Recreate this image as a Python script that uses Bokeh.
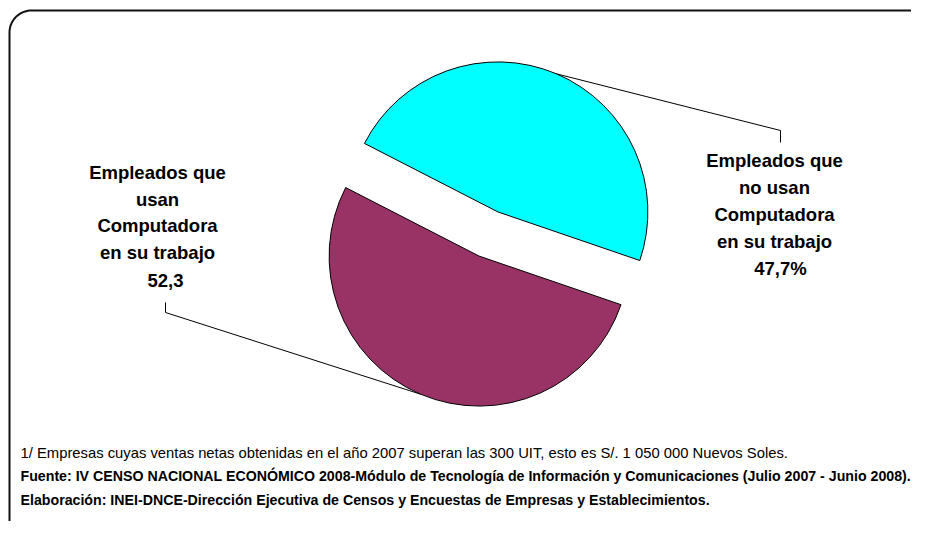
import numpy as np
from bokeh.plotting import figure
from bokeh.models import Range1d
from bokeh.core.properties import value
from bokeh.embed import file_html
from bokeh.resources import INLINE

# ---------------- data ----------------
categories = ["Empleados que usan Computadora en su trabajo",
              "Empleados que no usan Computadora en su trabajo"]
label_lines_usan = ["Empleados que", "usan", "Computadora", "en su trabajo"]
label_lines_no_usan = ["Empleados que", "no usan", "Computadora", "en su trabajo"]
values = [52.3, 47.7]
value_labels = ["52,3", "47,7%"]
colors = ["#993366", "#00FFFF"]
notes = [
    "1/ Empresas cuyas ventas netas obtenidas en el año 2007 superan las 300 UIT, esto es S/. 1 050 000 Nuevos Soles.",
    "Fuente: IV CENSO NACIONAL ECONÓMICO 2008-Módulo de Tecnología de Información y Comunicaciones (Julio 2007 - Junio 2008).",
    "Elaboración: INEI-DNCE-Dirección Ejecutiva de Censos y Encuestas de Empresas y Establecimientos.",
]

# ---------------- layout ----------------
W, H = 911, 521


def Y(sy):
    return H - sy


p = figure(width=W, height=H, output_backend="svg", toolbar_location=None,
           x_range=Range1d(0, W), y_range=Range1d(0, H), min_border=0)
p.axis.visible = False
p.grid.visible = False
p.outline_line_color = None
p.background_fill_color = "white"
p.border_fill_color = "white"

# rounded frame (open to the right/bottom, as in the cropped original)
fl, ft, fr, fb, rad = 9.0, 10.0, 930.0, 560.0, 22.0
t1 = np.linspace(np.pi, np.pi / 2, 20)
t2 = np.linspace(np.pi / 2, 0, 20)
fx = np.concatenate([[fl], fl + rad + rad * np.cos(t1), fr - rad + rad * np.cos(t2), [fr]])
fy = np.concatenate([[fb], ft + rad - rad * np.sin(t1), ft + rad - rad * np.sin(t2), [fb]])
p.line(fx, [Y(v) for v in fy], line_color="#111111", line_width=2)

# pie
cx, cy = 488.0, Y(233.5)
R = 150
explode = 24
total = sum(values)
start = np.radians(-18.9)
order = [1, 0]  # cyan (no usan) first, anticlockwise, then purple
mids = {}
a = start
for i in order:
    span = 2 * np.pi * values[i] / total
    s, e = a, a + span
    m = (s + e) / 2
    ox, oy = cx + explode * np.cos(m), cy + explode * np.sin(m)
    p.wedge(x=ox, y=oy, radius=R, start_angle=s, end_angle=e,
            direction="anticlock", fill_color=colors[i],
            line_color="black", line_width=1)
    mids[i] = (ox + R * np.cos(m), oy + R * np.sin(m))
    a = e

# leader lines
lx, ly = mids[1]
p.line([lx, 780, 780], [ly, Y(130), Y(142)], line_color="black", line_width=1)
lx, ly = mids[0]
p.line([lx, 165, 165], [ly, Y(312), Y(302)], line_color="black", line_width=1)

lab_font = value("Liberation Sans")
LS = "18.5px"
# left label
left_ys = [172, 199, 225, 252]
for t, sy in zip(label_lines_usan, left_ys):
    p.text(x=[157], y=[Y(sy)], text=[t], text_font=lab_font, text_font_size=LS,
           text_font_style="bold", text_align="center", text_baseline="middle",
           text_color="black")
p.text(x=[165], y=[Y(280)], text=[value_labels[0]], text_font=lab_font,
       text_font_size=LS, text_font_style="bold", text_align="center",
       text_baseline="middle", text_color="black")
# right label
right_ys = [160, 187, 214, 241]
for t, sy in zip(label_lines_no_usan, right_ys):
    p.text(x=[774], y=[Y(sy)], text=[t], text_font=lab_font, text_font_size=LS,
           text_font_style="bold", text_align="center", text_baseline="middle",
           text_color="black")
p.text(x=[780], y=[Y(268)], text=[value_labels[1]], text_font=lab_font,
       text_font_size=LS, text_font_style="bold", text_align="center",
       text_baseline="middle", text_color="black")

# footnotes
note_font = value("Liberation Sans")
note_ys = [452, 475, 499]
note_styles = ["normal", "bold", "bold"]
note_sizes = ["14.8px", "14.2px", "14.2px"]
for t, sy, st, fs in zip(notes, note_ys, note_styles, note_sizes):
    p.text(x=[20], y=[Y(sy)], text=[t], text_font=note_font, text_font_size=fs,
           text_font_style=st, text_align="left", text_baseline="middle",
           text_color="black")

open("out.html", "w").write(file_html(p, INLINE))
